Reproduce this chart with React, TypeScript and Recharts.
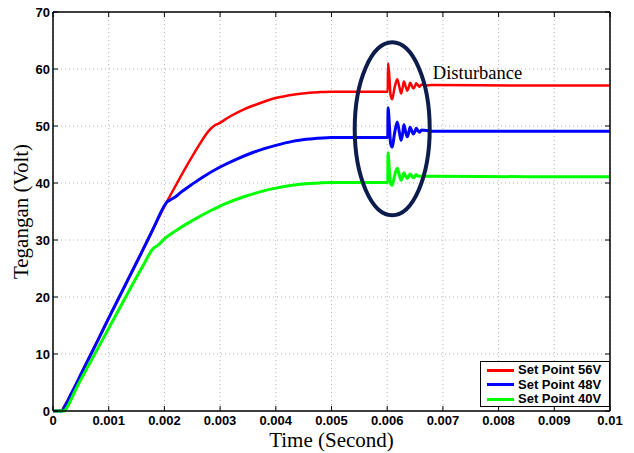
import React from 'react';
import { LineChart, Line, XAxis, YAxis, CartesianGrid, Legend, ReferenceDot } from 'recharts';

// [time (s), voltage (V)]
const setPoint56: number[][] = [
  [0, 0], [0.00015, 0], [0.0002, 0.8], [0.00025, 1.6], [0.0003, 2.5], [0.0004, 4.4],
  [0.0005, 6.4], [0.0006, 8.4], [0.0008, 12.3], [0.001, 16.3], [0.0012, 20.2],
  [0.0014, 24.1], [0.0016, 28.0], [0.0018, 32.0], [0.002, 35.9], [0.0022, 39.5],
  [0.0024, 43.0], [0.0026, 46.3], [0.0028, 49.2], [0.0029, 50.1], [0.00297, 50.4],
  [0.0031, 51.2], [0.0032, 51.8], [0.0034, 52.8], [0.0036, 53.6], [0.0038, 54.3],
  [0.004, 54.9], [0.0042, 55.3], [0.0044, 55.6], [0.0046, 55.85], [0.0048, 55.95],
  [0.005, 56.0], [0.006, 56.0], [0.00601, 56.0], [0.006015, 61.0], [0.00604, 58.5],
  [0.00606, 55.5], [0.00609, 54.7], [0.00613, 56.6], [0.00618, 58.2], [0.00622, 56.8],
  [0.00625, 55.7], [0.00628, 56.9], [0.0063, 57.8], [0.00633, 57.0], [0.00636, 56.2],
  [0.00639, 56.9], [0.00641, 57.6], [0.00644, 57.1], [0.00647, 56.6], [0.0065, 57.0],
  [0.00652, 57.5], [0.00655, 57.2], [0.00658, 56.9], [0.00662, 57.3], [0.00668, 57.1],
  [0.0068, 57.2], [0.0085, 57.1], [0.01, 57.1],
];

const setPoint48: number[][] = [
  [0, 0], [0.00017, 0], [0.0002, 0.6], [0.00025, 1.5], [0.0003, 2.5], [0.0004, 4.4],
  [0.0005, 6.4], [0.0006, 8.4], [0.0008, 12.3], [0.001, 16.3], [0.0012, 20.2],
  [0.0014, 24.1], [0.0016, 28.0], [0.0018, 32.0], [0.002, 36.0], [0.00205, 36.7],
  [0.0021, 37.0], [0.0022, 37.6], [0.0023, 38.4], [0.0025, 39.8], [0.0027, 41.1],
  [0.003, 42.8], [0.0033, 44.2], [0.0036, 45.4], [0.004, 46.6], [0.0043, 47.3],
  [0.0046, 47.7], [0.005, 48.0], [0.006, 48.0], [0.00601, 48.0], [0.006015, 53.2],
  [0.00604, 50.0], [0.00606, 47.0], [0.00609, 46.3], [0.00613, 48.6], [0.00618, 50.7],
  [0.00622, 48.8], [0.00625, 47.5], [0.00628, 48.9], [0.0063, 50.2], [0.00633, 49.0],
  [0.00636, 48.1], [0.00639, 49.0], [0.00641, 49.8], [0.00644, 49.2], [0.00647, 48.6],
  [0.0065, 49.1], [0.00652, 49.6], [0.00655, 49.2], [0.00658, 48.9], [0.00662, 49.3],
  [0.0068, 49.1], [0.0085, 49.1], [0.01, 49.1],
];

const setPoint40: number[][] = [
  [0, 0], [0.0002, 0], [0.00025, 0.6], [0.0003, 1.5], [0.0004, 3.6], [0.0005, 5.5],
  [0.0006, 7.3], [0.0008, 10.9], [0.001, 14.5], [0.0012, 18.1], [0.0014, 21.7],
  [0.0016, 25.2], [0.0018, 28.5], [0.0019, 29.2], [0.002, 30.2], [0.0022, 31.6],
  [0.0025, 33.4], [0.0028, 35.0], [0.0031, 36.4], [0.0034, 37.5], [0.0037, 38.4],
  [0.004, 39.1], [0.0043, 39.6], [0.0046, 39.9], [0.005, 40.1], [0.006, 40.1],
  [0.00601, 40.1], [0.006015, 45.3], [0.00604, 42.0], [0.00606, 39.9], [0.00609, 39.6],
  [0.00613, 41.2], [0.00618, 42.6], [0.00622, 41.3], [0.00625, 40.5], [0.00628, 41.2],
  [0.0063, 41.8], [0.00633, 41.2], [0.00636, 40.8], [0.00639, 41.2], [0.00641, 41.6],
  [0.00644, 41.3], [0.00647, 40.9], [0.0065, 41.2], [0.00652, 41.5], [0.00655, 41.2],
  [0.0068, 41.2], [0.0085, 41.1], [0.01, 41.1],
];

const seriesNames = ['Set Point 56V', 'Set Point 48V', 'Set Point 40V'];
const xTicks = [0, 0.001, 0.002, 0.003, 0.004, 0.005, 0.006, 0.007, 0.008, 0.009, 0.01];
const yTicks = [0, 10, 20, 30, 40, 50, 60, 70];

const toPoints = (rows: number[][]) => rows.map(([t, v]) => ({ t, v }));

const fmtX = (v: number) => (v === 0 ? '0' : String(parseFloat(v.toFixed(3))));

const tickFont = { fontFamily: 'Liberation Sans, Arial, sans-serif', fontSize: 13, fontWeight: 'bold' as const };

const BottomTick = (props: any) => {
  const { x, y, payload } = props;
  return (
    <g>
      <line x1={x} x2={x} y1={y} y2={y - 5} stroke="#000" strokeWidth={1} />
      <text x={x} y={y + 14} textAnchor="middle" fill="#000" {...tickFont}>
        {fmtX(payload.value)}
      </text>
    </g>
  );
};

const LeftTick = (props: any) => {
  const { x, y, payload } = props;
  return (
    <g>
      <line x1={x} x2={x + 5} y1={y} y2={y} stroke="#000" strokeWidth={1} />
      <text x={x - 3} y={y} dy="0.36em" textAnchor="end" fill="#000" {...tickFont}>
        {payload.value}
      </text>
    </g>
  );
};

const LegendBox = (props: any) => {
  const items = [...(props.payload || [])].sort(
    (a: any, b: any) => seriesNames.indexOf(a.value) - seriesNames.indexOf(b.value)
  );
  return (
    <div
      style={{
        width: 130,
        height: 46,
        boxSizing: 'border-box',
        border: '1.5px solid #000',
        background: '#fff',
        paddingTop: 1,
      }}
    >
      {items.map((entry: any) => (
        <div key={entry.value} style={{ display: 'flex', alignItems: 'center', height: 14.5 }}>
          <span style={{ display: 'inline-block', width: 27, height: 3, marginLeft: 6, background: entry.color }} />
          <span style={{ marginLeft: 4, color: '#000', lineHeight: '14.5px', ...tickFont }}>{entry.value}</span>
        </div>
      ))}
    </div>
  );
};

const axisStroke = { stroke: '#000', strokeWidth: 1.5 };

export default function App() {
  return (
    <div style={{ position: 'absolute', left: 0, top: 0, width: 634, height: 453, background: '#fff' }}>
      <LineChart width={634} height={453} margin={{ top: 12, right: 24, bottom: 0, left: 0 }}>
        <CartesianGrid stroke="#b5b5b5" strokeDasharray="1 3" />
        <XAxis
          dataKey="t"
          type="number"
          domain={[0, 0.01]}
          ticks={xTicks}
          interval={0}
          height={42}
          tickSize={0}
          tickMargin={0}
          tickLine={false}
          axisLine={axisStroke}
          tick={BottomTick}
          label={{ value: 'Time (Second)', position: 'insideBottom', offset: 6, fill: '#000', fontSize: 21, fontFamily: 'Liberation Serif, Times New Roman, serif' }}
        />
        <XAxis
          xAxisId="top"
          orientation="top"
          mirror
          dataKey="t"
          type="number"
          domain={[0, 0.01]}
          ticks={xTicks}
          interval={0}
          allowDataOverflow
          tickSize={5}
          tickFormatter={() => ''}
          tickLine={{ stroke: '#000' }}
          axisLine={axisStroke}
        />
        <YAxis
          type="number"
          domain={[0, 70]}
          ticks={yTicks}
          interval={0}
          width={53}
          tickSize={0}
          tickMargin={0}
          tickLine={false}
          axisLine={axisStroke}
          tick={LeftTick}
          label={{ value: 'Tegangan (Volt)', angle: -90, position: 'insideLeft', offset: 21, style: { textAnchor: 'middle' }, fill: '#000', fontSize: 21, fontFamily: 'Liberation Serif, Times New Roman, serif' }}
        />
        <YAxis
          yAxisId="right"
          orientation="right"
          mirror
          type="number"
          domain={[0, 70]}
          ticks={yTicks}
          interval={0}
          allowDataOverflow
          tickSize={5}
          tickFormatter={() => ''}
          tickLine={{ stroke: '#000' }}
          axisLine={axisStroke}
        />
        <Line data={toPoints(setPoint56)} dataKey="v" name={seriesNames[0]} type="monotone" stroke="#ff0000" strokeWidth={2.5} dot={false} isAnimationActive={false} />
        <Line data={toPoints(setPoint48)} dataKey="v" name={seriesNames[1]} type="monotone" stroke="#0000ff" strokeWidth={3} dot={false} isAnimationActive={false} />
        <Line data={toPoints(setPoint40)} dataKey="v" name={seriesNames[2]} type="monotone" stroke="#00ff00" strokeWidth={3} dot={false} isAnimationActive={false} />
        <ReferenceDot
          x={0.00609}
          y={49.5}
          r={0}
          shape={(p: any) => (
            <ellipse cx={p.cx} cy={p.cy} rx={37.5} ry={86.5} fill="none" stroke="#0c1c4c" strokeWidth={4} />
          )}
        />
        <ReferenceDot
          x={0.00682}
          y={58.2}
          r={0}
          shape={(p: any) => (
            <text x={p.cx} y={p.cy} fill="#000" fontSize={18.5} fontFamily="Liberation Serif, Times New Roman, serif">
              Disturbance
            </text>
          )}
        />
        <Legend
          layout="vertical"
          align="center"
          verticalAlign="middle"
          wrapperStyle={{ left: 480, top: 361, width: 130 }}
          content={LegendBox}
        />
      </LineChart>
    </div>
  );
}
